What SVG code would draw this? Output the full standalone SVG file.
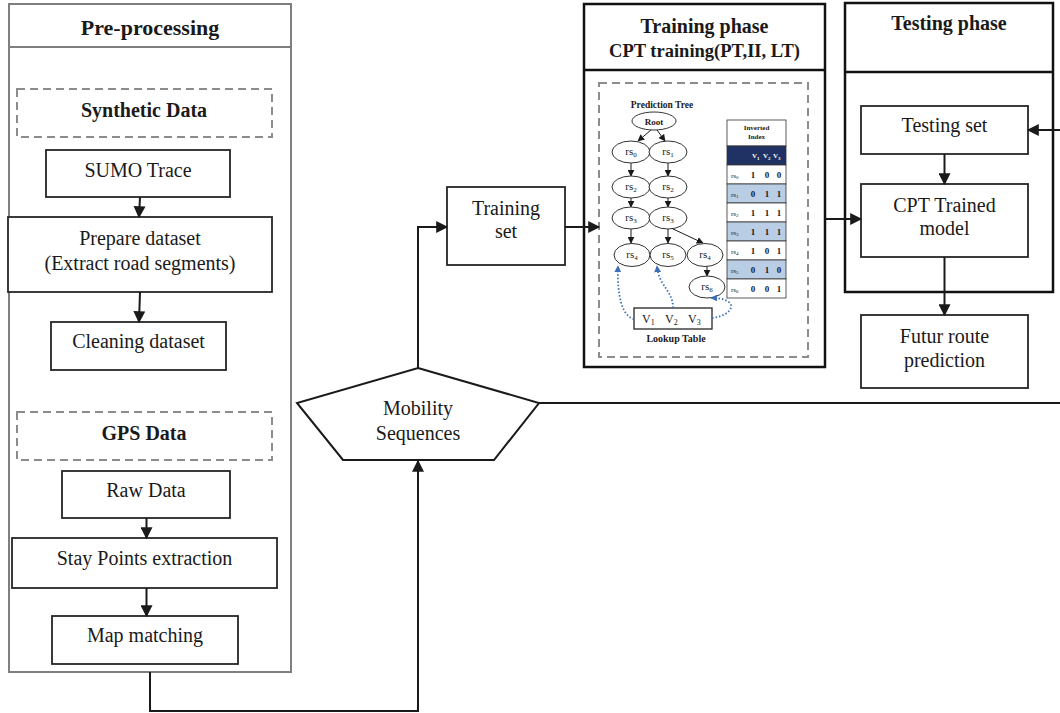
<svg xmlns="http://www.w3.org/2000/svg" width="1060" height="713" viewBox="0 0 1060 713">
  <defs>
    <style>
      .t { font-family: "Liberation Serif", "Times New Roman", serif; fill: #1a1a1a; }
      .lbl { font-size: 20px; text-anchor: middle; }
      .hd { font-size: 20px; font-weight: bold; text-anchor: middle; }
      .box { fill: #fff; stroke: #262626; stroke-width: 1.8; }
      .grp { fill: none; stroke: #7f7f7f; stroke-width: 2; }
      .dash { fill: none; stroke: #8c8c8c; stroke-width: 2; stroke-dasharray: 8 5; }
      .phase { fill: #fff; stroke: #111; stroke-width: 2.5; }
      .con { fill: none; stroke: #1a1a1a; stroke-width: 2; }
      .edge { fill: none; stroke: #1a1a1a; stroke-width: 1; }
      .node { fill: #fff; stroke: #333; stroke-width: 1; }
      .rs { font-size: 11px; text-anchor: middle; }
      .dot { fill: none; stroke: #3d6fb6; stroke-width: 1.8; stroke-dasharray: 1.5 2; }
      .cell { stroke: #333; stroke-width: 0.8; }
      .idx { font-size: 7px; }
      .bit { font-size: 9px; font-weight: bold; text-anchor: middle; }
    </style>
    <marker id="arr" viewBox="0 0 10 10" refX="9" refY="5" markerWidth="13" markerHeight="12" markerUnits="userSpaceOnUse" orient="auto">
      <path d="M0,0 L10,5 L0,10 z" fill="#1a1a1a"/>
    </marker>
    <marker id="arrS" viewBox="0 0 10 10" refX="9" refY="5" markerWidth="7" markerHeight="7" markerUnits="userSpaceOnUse" orient="auto">
      <path d="M0,0 L10,5 L0,10 z" fill="#1a1a1a"/>
    </marker>
    <marker id="arrB" viewBox="0 0 10 10" refX="9" refY="5" markerWidth="7" markerHeight="7" markerUnits="userSpaceOnUse" orient="auto">
      <path d="M0,0 L10,5 L0,10 z" fill="#3d6fb6"/>
    </marker>
  </defs>

  <rect width="1060" height="713" fill="#fff"/>

  <!-- Pre-processing column -->
  <g id="preprocessing">
    <rect class="grp" x="9" y="4" width="282" height="668"/>
    <line x1="9" y1="47" x2="291" y2="47" stroke="#7f7f7f" stroke-width="2"/>
    <text class="t" x="150" y="35" font-size="22" font-weight="bold" text-anchor="middle">Pre-processing</text>
  </g>
  <g id="synthetic-data">
    <rect class="dash" x="17" y="89" width="255" height="48"/>
    <text class="t hd" x="144" y="117">Synthetic Data</text>
  </g>
  <g id="sumo-trace">
    <rect class="box" x="46" y="150" width="184" height="47"/>
    <text class="t lbl" x="138" y="177">SUMO Trace</text>
  </g>
  <g id="prepare-dataset">
    <rect class="box" x="8" y="217" width="264" height="75"/>
    <text class="t lbl" x="140" y="245">Prepare dataset</text>
    <text class="t lbl" x="140" y="270">(Extract road segments)</text>
  </g>
  <g id="cleaning-dataset">
    <rect class="box" x="51" y="322" width="175" height="48"/>
    <text class="t lbl" x="138.5" y="348">Cleaning dataset</text>
  </g>
  <g id="gps-data">
    <rect class="dash" x="17" y="412" width="255" height="48"/>
    <text class="t hd" x="144" y="440">GPS Data</text>
  </g>
  <g id="raw-data">
    <rect class="box" x="62" y="471" width="168" height="47"/>
    <text class="t lbl" x="146" y="497">Raw Data</text>
  </g>
  <g id="stay-points">
    <rect class="box" x="12" y="538" width="265" height="50"/>
    <text class="t lbl" x="144.5" y="565">Stay Points extraction</text>
  </g>
  <g id="map-matching">
    <rect class="box" x="52" y="616" width="186" height="48"/>
    <text class="t lbl" x="145" y="642">Map matching</text>
  </g>

  <!-- Mobility sequences -->
  <g id="mobility-sequences">
    <polygon points="418,368 539,403 494,460 343,460 297,403" fill="#fff" stroke="#1a1a1a" stroke-width="2"/>
    <text class="t lbl" x="418" y="415">Mobility</text>
    <text class="t lbl" x="418" y="440">Sequences</text>
  </g>

  <!-- Training set -->
  <g id="training-set">
    <rect class="box" x="447" y="187" width="118" height="78"/>
    <text class="t lbl" x="506" y="215">Training</text>
    <text class="t lbl" x="506" y="238">set</text>
  </g>

  <!-- Training phase with CPT structures -->
  <g id="training-phase">
    <rect class="phase" x="584" y="4" width="241" height="363"/>
    <line x1="584" y1="70" x2="825" y2="70" stroke="#111" stroke-width="2.5"/>
    <text class="t hd" x="704.5" y="33">Training phase</text>
    <text class="t" x="704.5" y="57" font-size="18.5" font-weight="bold" text-anchor="middle">CPT training(PT,II, LT)</text>
    <rect class="dash" x="599" y="83" width="209" height="274" stroke-dasharray="9 6"/>
  </g>

  <g id="prediction-tree">
    <text class="t" x="662" y="108" font-size="9.5" font-weight="bold" text-anchor="middle">Prediction Tree</text>
    <g class="edges">
      <line class="edge" x1="651" y1="130" x2="638" y2="141" marker-end="url(#arrS)"/>
      <line class="edge" x1="657" y1="130" x2="665" y2="141" marker-end="url(#arrS)"/>
      <line class="edge" x1="631" y1="163" x2="631" y2="176" marker-end="url(#arrS)"/>
      <line class="edge" x1="668" y1="163" x2="668" y2="176" marker-end="url(#arrS)"/>
      <line class="edge" x1="631" y1="198" x2="631" y2="207" marker-end="url(#arrS)"/>
      <line class="edge" x1="668" y1="198" x2="668" y2="207" marker-end="url(#arrS)"/>
      <line class="edge" x1="631" y1="229" x2="631" y2="243" marker-end="url(#arrS)"/>
      <line class="edge" x1="668" y1="229" x2="668" y2="243" marker-end="url(#arrS)"/>
      <line class="edge" x1="671" y1="228" x2="703" y2="243" marker-end="url(#arrS)"/>
      <line class="edge" x1="707" y1="266" x2="707" y2="276" marker-end="url(#arrS)"/>
    </g>
    <g id="pt-root">
      <ellipse class="node" cx="654" cy="121" rx="22" ry="9"/>
      <text class="t" x="654" y="124.5" font-size="9" font-weight="bold" text-anchor="middle">Root</text>
    </g>
    <g id="pt-rs0-a"><ellipse class="node" cx="631" cy="152" rx="19" ry="11"/><text class="t rs" x="631" y="155">rs<tspan font-size="7" dy="2">0</tspan></text></g>
    <g id="pt-rs1-a"><ellipse class="node" cx="668" cy="152" rx="19" ry="11"/><text class="t rs" x="668" y="155">rs<tspan font-size="7" dy="2">1</tspan></text></g>
    <g id="pt-rs2-a"><ellipse class="node" cx="631" cy="187" rx="19" ry="11"/><text class="t rs" x="631" y="190">rs<tspan font-size="7" dy="2">2</tspan></text></g>
    <g id="pt-rs2-b"><ellipse class="node" cx="668" cy="187" rx="19" ry="11"/><text class="t rs" x="668" y="190">rs<tspan font-size="7" dy="2">2</tspan></text></g>
    <g id="pt-rs3-a"><ellipse class="node" cx="631" cy="218" rx="19" ry="11"/><text class="t rs" x="631" y="221">rs<tspan font-size="7" dy="2">3</tspan></text></g>
    <g id="pt-rs3-b"><ellipse class="node" cx="668" cy="218" rx="19" ry="11"/><text class="t rs" x="668" y="221">rs<tspan font-size="7" dy="2">3</tspan></text></g>
    <g id="pt-rs4-a"><ellipse class="node" cx="632" cy="255" rx="18" ry="11.5"/><text class="t rs" x="632" y="258">rs<tspan font-size="7" dy="2">4</tspan></text></g>
    <g id="pt-rs5"><ellipse class="node" cx="668" cy="255" rx="18" ry="11.5"/><text class="t rs" x="668" y="258">rs<tspan font-size="7" dy="2">5</tspan></text></g>
    <g id="pt-rs4-b"><ellipse class="node" cx="705" cy="255" rx="18" ry="11.5"/><text class="t rs" x="705" y="258">rs<tspan font-size="7" dy="2">4</tspan></text></g>
    <g id="pt-rs6"><ellipse class="node" cx="707" cy="287" rx="18" ry="11"/><text class="t rs" x="707" y="290">rs<tspan font-size="7" dy="2">6</tspan></text></g>
  </g>

  <!-- Inverted index table -->
  <g id="inverted-index">
    <rect class="cell" x="727" y="120" width="59" height="26" fill="#fff"/>
    <text class="t" x="756.5" y="130" font-size="7" font-weight="bold" text-anchor="middle">Inverted</text>
    <text class="t" x="756.5" y="139" font-size="7" font-weight="bold" text-anchor="middle">Index</text>
    <rect class="cell" x="727" y="146" width="59" height="19" fill="#1f3263"/>
    <text class="t" x="752" y="158" font-size="7" font-weight="bold" style="fill:#fff">V<tspan font-size="5" dy="1.5">1</tspan><tspan x="763" dy="-1.5">V</tspan><tspan font-size="5" dy="1.5">2</tspan><tspan x="773" dy="-1.5">V</tspan><tspan font-size="5" dy="1.5">3</tspan></text>

    <rect class="cell" x="727" y="165" width="59" height="19" fill="#fff"/>
    <rect class="cell" x="727" y="184" width="59" height="19" fill="#b9cde5"/>
    <rect class="cell" x="727" y="203" width="59" height="19" fill="#fff"/>
    <rect class="cell" x="727" y="222" width="59" height="19" fill="#b9cde5"/>
    <rect class="cell" x="727" y="241" width="59" height="19" fill="#fff"/>
    <rect class="cell" x="727" y="260" width="59" height="19" fill="#b9cde5"/>
    <rect class="cell" x="727" y="279" width="59" height="19" fill="#fff"/>

    <text class="t idx" x="731" y="177.5">rs<tspan font-size="5" dy="1.5">0</tspan></text>
    <text class="t idx" x="731" y="196.5">rs<tspan font-size="5" dy="1.5">1</tspan></text>
    <text class="t idx" x="731" y="215.5">rs<tspan font-size="5" dy="1.5">2</tspan></text>
    <text class="t idx" x="731" y="234.5">rs<tspan font-size="5" dy="1.5">3</tspan></text>
    <text class="t idx" x="731" y="253.5">rs<tspan font-size="5" dy="1.5">4</tspan></text>
    <text class="t idx" x="731" y="272.5">rs<tspan font-size="5" dy="1.5">5</tspan></text>
    <text class="t idx" x="731" y="291.5">rs<tspan font-size="5" dy="1.5">6</tspan></text>

    <g class="bits">
      <text class="t bit" x="753" y="178">1</text><text class="t bit" x="767" y="178">0</text><text class="t bit" x="779" y="178">0</text>
      <text class="t bit" x="753" y="197">0</text><text class="t bit" x="767" y="197">1</text><text class="t bit" x="779" y="197">1</text>
      <text class="t bit" x="753" y="216">1</text><text class="t bit" x="767" y="216">1</text><text class="t bit" x="779" y="216">1</text>
      <text class="t bit" x="753" y="235">1</text><text class="t bit" x="767" y="235">1</text><text class="t bit" x="779" y="235">1</text>
      <text class="t bit" x="753" y="254">1</text><text class="t bit" x="767" y="254">0</text><text class="t bit" x="779" y="254">1</text>
      <text class="t bit" x="753" y="273">0</text><text class="t bit" x="767" y="273">1</text><text class="t bit" x="779" y="273">0</text>
      <text class="t bit" x="753" y="292">0</text><text class="t bit" x="767" y="292">0</text><text class="t bit" x="779" y="292">1</text>
    </g>
  </g>

  <!-- Lookup table -->
  <g id="lookup-table">
    <rect x="634" y="308" width="78" height="21" fill="#fff" stroke="#262626" stroke-width="1.3"/>
    <text class="t" x="642" y="323" font-size="12">V<tspan font-size="8" dy="2">1</tspan><tspan x="665" dy="-2">V</tspan><tspan font-size="8" dy="2">2</tspan><tspan x="688" dy="-2">V</tspan><tspan font-size="8" dy="2">3</tspan></text>
    <text class="t" x="676" y="342" font-size="10" font-weight="bold" text-anchor="middle">Lookup Table</text>
    <path class="dot" d="M634,319 C622,316 617,296 618,266" marker-end="url(#arrB)"/>
    <path class="dot" d="M673,308 C673,290 659,287 657,266" marker-end="url(#arrB)"/>
    <path class="dot" d="M712,318 C730,316 736,305 727,301 C722,298 716,298 711,298" marker-end="url(#arrB)"/>
  </g>

  <!-- Testing phase -->
  <g id="testing-phase">
    <rect class="phase" x="845" y="3" width="208" height="289"/>
    <line x1="845" y1="72" x2="1053" y2="72" stroke="#111" stroke-width="2.5"/>
    <text class="t hd" x="949" y="30">Testing phase</text>
  </g>
  <g id="testing-set">
    <rect class="box" x="861" y="106" width="167" height="48"/>
    <text class="t lbl" x="944.5" y="132">Testing set</text>
  </g>
  <g id="cpt-trained-model">
    <rect class="box" x="861" y="184" width="167" height="73"/>
    <text class="t lbl" x="944.5" y="212">CPT Trained</text>
    <text class="t lbl" x="944.5" y="235">model</text>
  </g>
  <g id="future-route">
    <rect class="box" x="861" y="315" width="167" height="73"/>
    <text class="t lbl" x="944.5" y="343">Futur route</text>
    <text class="t lbl" x="944.5" y="367">prediction</text>
  </g>

  <!-- Connectors -->
  <g id="connectors">
    <line class="con" x1="140" y1="197" x2="139" y2="217" marker-end="url(#arr)"/>
    <line class="con" x1="140" y1="292" x2="139" y2="322" marker-end="url(#arr)"/>
    <line class="con" x1="146.5" y1="518" x2="146.5" y2="538" marker-end="url(#arr)"/>
    <line class="con" x1="146.5" y1="588" x2="146.5" y2="616" marker-end="url(#arr)"/>
    <path class="con" d="M150,672 V711 H418 V461" marker-end="url(#arr)"/>
    <path class="con" d="M418,368 V227 H447" marker-end="url(#arr)"/>
    <line class="con" x1="565" y1="227" x2="599" y2="227" marker-end="url(#arr)"/>
    <line class="con" x1="825" y1="219" x2="861" y2="219" marker-end="url(#arr)"/>
    <line class="con" x1="944.5" y1="154" x2="944.5" y2="184" marker-end="url(#arr)"/>
    <line class="con" x1="944.5" y1="257" x2="944.5" y2="315" marker-end="url(#arr)"/>
    <path class="con" d="M539,403 H1064 V130 H1028" marker-end="url(#arr)"/>
  </g>
</svg>
